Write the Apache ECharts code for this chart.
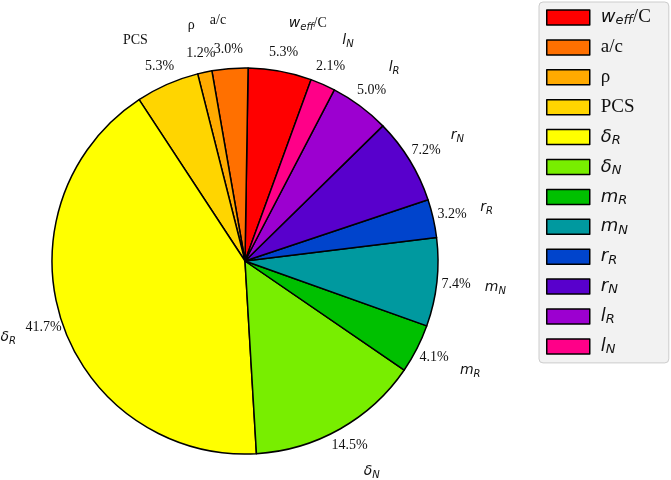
<!DOCTYPE html>
<html>
<head>
<meta charset="utf-8">
<script src="https://cdn.jsdelivr.net/npm/echarts@6/dist/echarts.min.js"></script>
<style>
html,body{margin:0;padding:0;background:#fff;}
#chart{width:671px;height:480px;}
</style>
</head>
<body>
<div id="chart"></div>
<script>
// Data (order: counter-clockwise from the top, as in the legend)
const names = ['weff/C', 'a/c', 'rho', 'PCS', 'deltaR', 'deltaN', 'mR', 'mN', 'rR', 'rN', 'lR', 'lN'];
const percents = [5.3, 3.0, 1.2, 5.3, 41.7, 14.5, 4.1, 7.4, 3.2, 7.2, 5.0, 2.1];
const colors = ['#ff0000', '#ff7000', '#ffaa00', '#ffd500', '#ffff00', '#78ee00',
                '#00c000', '#00999f', '#0044cc', '#5800cc', '#9c00d0', '#ff0088'];
// rich-text labels (pie label / legend label)
const labelText = {
  'weff/C': '{i|w}{s|eff}{r|/C}',
  'a/c': '{r|a/c}',
  'rho': '{r|ρ}',
  'PCS': '{r|PCS}',
  'deltaR': '{i|δ}{s|R}',
  'deltaN': '{i|δ}{s|N}',
  'mR': '{i|m}{s|R}',
  'mN': '{i|m}{s|N}',
  'rR': '{i|r}{s|R}',
  'rN': '{i|r}{s|N}',
  'lR': '{i|l}{s|R}',
  'lN': '{i|l}{s|N}'
};

const startAngle = 70;
const cx = 245, cy = 261, R = 193;

const data = names.map((n, i) => ({ name: n, value: percents[i], itemStyle: { color: colors[i] } }));

function rich(big, small, serif, lh) {
  return {
    r: { fontFamily: 'Liberation Serif', fontSize: serif, lineHeight: lh, color: '#111', verticalAlign: 'middle' },
    i: { fontFamily: 'DejaVu Sans', fontStyle: 'italic', fontSize: big, lineHeight: lh, color: '#111', verticalAlign: 'middle' },
    s: { fontFamily: 'DejaVu Sans', fontStyle: 'italic', fontSize: small, lineHeight: small + 1, color: '#111', verticalAlign: 'bottom' }
  };
}

// transparent overlay pie carrying the percentage labels (half of them each)
function pctSeries(parity) {
  return {
    type: 'pie',
    center: [cx, cy],
    radius: R,
    startAngle: startAngle,
    clockwise: false,
    avoidLabelOverlap: false,
    silent: true,
    legendHoverLink: false,
    data: names.map((n, i) => ({
      name: n, value: percents[i],
      label: { show: i % 2 === parity }
    })),
    itemStyle: { color: 'rgba(0,0,0,0)', borderWidth: 0 },
    emphasis: { disabled: true },
    label: {
      position: 'outside',
      distanceToLabelLine: 0,
      formatter: p => p.value.toFixed(1) + '%',
      fontFamily: 'Liberation Serif',
      fontSize: 14,
      color: '#111'
    },
    labelLine: { show: false, length: R * 0.1, length2: 0 },
    labelLayout: () => ({ align: 'center', verticalAlign: 'middle', hideOverlap: false })
  };
}

const chart = echarts.init(document.getElementById('chart'), null, { renderer: 'canvas' });
chart.setOption({
  backgroundColor: '#ffffff',
  animation: false,
  legend: {
    orient: 'vertical',
    left: 539,
    top: 2,
    data: names,
    icon: 'rect',
    itemWidth: 43,
    itemHeight: 15,
    itemGap: 9.9,
    padding: [5.5, 18, 6.5, 7],
    backgroundColor: '#f2f2f2',
    borderColor: '#cccccc',
    borderWidth: 1,
    borderRadius: 4,
    itemStyle: { borderColor: '#000', borderWidth: 1.5 },
    formatter: n => labelText[n],
    textStyle: {
      padding: [0, 0, 0, 6],
      lineHeight: 20,
      rich: rich(18, 13, 19, 20)
    }
  },
  series: [
    {
      type: 'pie',
      center: [cx, cy],
      radius: R,
      startAngle: startAngle,
      clockwise: false,
      avoidLabelOverlap: false,
      data: data,
      itemStyle: { borderColor: '#000', borderWidth: 1.5 },
      emphasis: { disabled: true },
      label: {
        show: true,
        position: 'outside',
        distanceToLabelLine: 0,
        formatter: p => labelText[p.name],
        rich: rich(14, 10, 14, 18)
      },
      labelLine: { show: false, length: R * 0.25, length2: 0 },
      labelLayout: { hideOverlap: false }
    },
    pctSeries(0),
    pctSeries(1)
  ]
});
</script>
</body>
</html>
